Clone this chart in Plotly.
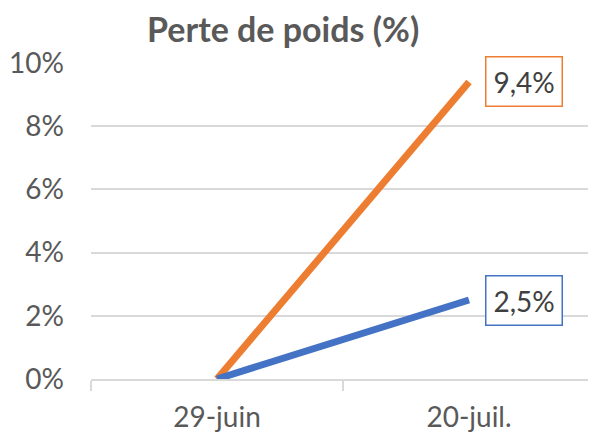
import plotly.graph_objects as go

categories = ["29-juin", "20-juil."]
series_names = ["Série orange", "Série bleue"]
orange_values = [0, 9.4]
blue_values = [0, 2.5]
y_ticks = [0, 2, 4, 6, 8, 10]
y_tick_labels = ["0%", "2%", "4%", "6%", "8%", "10%"]
title = "Perte de poids (%)"

ORANGE = "#ED7D31"
BLUE = "#4472C4"
FONT = "Lato, Open Sans, sans-serif"

fig = go.Figure()
for name, vals, col in [(series_names[0], orange_values, ORANGE),
                        (series_names[1], blue_values, BLUE)]:
    fig.add_trace(go.Scatter(x=categories, y=vals, mode="lines", name=name,
                             line=dict(color=col, width=7), showlegend=False))
    fig.add_annotation(x=categories[-1], y=vals[-1],
                       text=f"{vals[-1]:.1f}%".replace(".", ","),
                       showarrow=False, xanchor="left", xshift=16,
                       font=dict(family=FONT, size=28, color="#404040"),
                       bgcolor="white", bordercolor=col, borderwidth=1.5,
                       borderpad=7)

fig.update_layout(
    width=588, height=429,
    margin=dict(l=83, r=1, t=55, b=58),
    plot_bgcolor="white", paper_bgcolor="white",
    title=dict(text=f"<b>{title}</b>", x=0.468, xanchor="center", y=0.948,
               yanchor="middle",
               font=dict(family=FONT, size=34, color="#595959")),
    xaxis=dict(type="category", range=[-0.5, 1.5], showgrid=False,
               showline=True, linecolor="#D9D9D9", linewidth=1.5,
               ticks="outside", tickson="boundaries", ticklen=10,
               tickcolor="#D9D9D9", tickwidth=1.5, ticklabelstandoff=13,
               tickfont=dict(family=FONT, size=28, color="#595959")),
    yaxis=dict(range=[0, 10], tickvals=y_ticks, ticktext=y_tick_labels,
               showgrid=True, gridcolor="#D9D9D9", gridwidth=1.5,
               zeroline=False, showline=False, ticklabelstandoff=26,
               tickfont=dict(family=FONT, size=28, color="#595959")),
)

fig.write_html("out.html")
